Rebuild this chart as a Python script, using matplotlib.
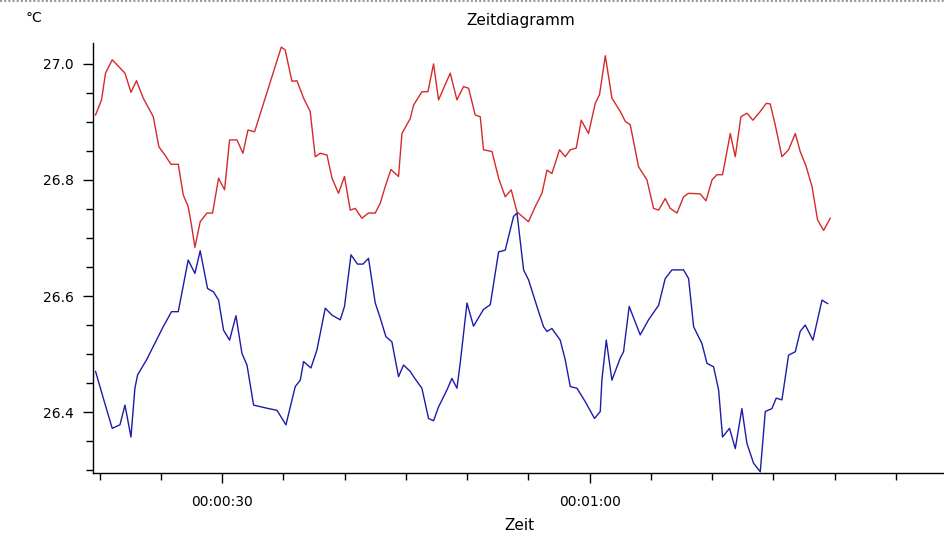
import matplotlib
matplotlib.use("Agg")
import matplotlib.pyplot as plt
from matplotlib.ticker import MultipleLocator, FixedLocator, FixedFormatter
from matplotlib.lines import Line2D

# time in seconds since start, values in °C
t_red = [19.66, 20.15, 20.47, 21.02, 22.06, 22.55, 23.00, 23.55, 24.37, 24.83,
         25.32, 25.81, 26.41, 26.82, 27.22, 27.49, 27.77, 28.20, 28.75, 29.21,
         29.70, 30.19, 30.60, 31.20, 31.69, 32.10, 32.64, 34.82, 35.14, 35.69,
         36.10, 36.64, 37.18, 37.59, 38.00, 38.55, 38.96, 39.49, 39.98, 40.45,
         40.86, 41.40, 41.94, 42.49, 42.90, 43.31, 43.77, 44.39, 44.67, 45.35,
         45.62, 46.30, 46.79, 47.25, 47.66, 48.61, 49.16, 49.70, 50.11, 50.65,
         51.06, 51.33, 52.02, 52.56, 53.10, 53.59, 54.06, 55.00, 55.55, 56.10,
         56.51, 56.91, 57.53, 58.00, 58.41, 58.90, 59.31, 59.90, 60.45, 60.80,
         61.27, 61.81, 62.49, 62.90, 63.31, 63.98, 64.67, 65.21, 65.62, 66.16,
         66.57, 67.12, 67.66, 68.07, 69.02, 69.49, 69.98, 70.38, 70.84, 71.20,
         71.47, 71.88, 72.34, 72.83, 73.32, 73.92, 74.41, 74.73, 75.14, 75.69,
         76.23, 76.78, 77.18, 77.67, 78.14, 78.60, 79.09, 79.63]
red = [26.912, 26.938, 26.984, 27.007, 26.984, 26.951, 26.971, 26.941, 26.909, 26.857,
       26.843, 26.827, 26.827, 26.774, 26.754, 26.722, 26.684, 26.728, 26.743, 26.743,
       26.803, 26.783, 26.869, 26.869, 26.846, 26.886, 26.883, 27.029, 27.024, 26.970,
       26.971, 26.941, 26.918, 26.840, 26.846, 26.843, 26.803, 26.777, 26.806, 26.748,
       26.751, 26.734, 26.743, 26.743, 26.760, 26.789, 26.818, 26.806, 26.880, 26.906,
       26.929, 26.952, 26.952, 27.000, 26.938, 26.984, 26.938, 26.961, 26.958, 26.912,
       26.909, 26.852, 26.849, 26.803, 26.771, 26.783, 26.745, 26.728, 26.754, 26.777,
       26.817, 26.811, 26.852, 26.840, 26.852, 26.855, 26.903, 26.880, 26.932, 26.947,
       27.014, 26.941, 26.918, 26.901, 26.895, 26.823, 26.800, 26.751, 26.748, 26.768,
       26.751, 26.743, 26.771, 26.777, 26.776, 26.764, 26.800, 26.809, 26.809, 26.849,
       26.880, 26.840, 26.909, 26.915, 26.903, 26.918, 26.932, 26.931, 26.895, 26.840,
       26.852, 26.880, 26.849, 26.823, 26.789, 26.731, 26.713, 26.734]

t_blue = [19.66, 20.29, 21.02, 21.65, 22.06, 22.55, 22.87, 23.09, 23.82, 24.51,
          25.18, 25.86, 26.41, 27.22, 27.77, 28.20, 28.80, 29.29, 29.70, 30.11,
          30.60, 31.12, 31.61, 32.02, 32.56, 33.78, 34.47, 35.20, 35.96, 36.37,
          36.64, 37.24, 37.73, 38.41, 38.96, 39.63, 39.98, 40.51, 41.04, 41.49,
          41.94, 42.49, 42.90, 43.36, 43.85, 44.39, 44.80, 45.35, 45.62, 46.30,
          46.84, 47.25, 47.66, 48.34, 48.75, 49.16, 49.43, 49.98, 50.51, 51.33,
          51.88, 52.56, 53.10, 53.78, 54.06, 54.60, 55.00, 55.69, 56.23, 56.51,
          56.91, 57.59, 58.00, 58.41, 58.96, 59.63, 60.39, 60.86, 60.99, 61.35,
          61.81, 62.49, 62.76, 63.22, 64.12, 64.80, 65.62, 66.16, 66.71, 67.66,
          68.07, 68.48, 69.16, 69.57, 70.11, 70.52, 70.84, 71.41, 71.88, 72.42,
          72.83, 73.37, 73.92, 74.33, 74.87, 75.22, 75.69, 76.23, 76.78, 77.18,
          77.59, 78.22, 78.96, 79.41]
blue = [26.470, 26.424, 26.372, 26.378, 26.412, 26.357, 26.441, 26.464, 26.490, 26.519,
        26.547, 26.573, 26.573, 26.662, 26.639, 26.678, 26.613, 26.607, 26.593, 26.541,
        26.524, 26.566, 26.501, 26.481, 26.412, 26.406, 26.403, 26.378, 26.444, 26.455,
        26.487, 26.476, 26.507, 26.579, 26.567, 26.559, 26.582, 26.671, 26.655, 26.655,
        26.665, 26.588, 26.562, 26.530, 26.521, 26.461, 26.481, 26.470, 26.461, 26.441,
        26.389, 26.385, 26.409, 26.438, 26.458, 26.441, 26.485, 26.588, 26.548, 26.577,
        26.585, 26.676, 26.679, 26.737, 26.743, 26.645, 26.628, 26.582, 26.547, 26.539,
        26.544, 26.524, 26.490, 26.444, 26.441, 26.418, 26.389, 26.401, 26.455, 26.524,
        26.455, 26.493, 26.504, 26.582, 26.533, 26.559, 26.584, 26.630, 26.645, 26.645,
        26.630, 26.547, 26.518, 26.484, 26.478, 26.438, 26.357, 26.372, 26.337, 26.406,
        26.346, 26.312, 26.297, 26.401, 26.406, 26.424, 26.421, 26.498, 26.504, 26.539,
        26.550, 26.524, 26.593, 26.587]

x_major = [30, 60]
x_major_labels = ["00:00:30", "00:01:00"]
y_major = [26.4, 26.6, 26.8, 27.0]
y_major_labels = ["26.4", "26.6", "26.8", "27.0"]

plt.rcParams['font.family'] = ['DejaVu Sans']

fig = plt.figure(figsize=(9.45, 5.37), dpi=100)
ax = fig.add_axes([93/945, 1 - 473/537, 1 - 93/945, (473 - 43)/537])

ax.plot(t_red, red, color="#d42a2a", lw=1.0)
ax.plot(t_blue, blue, color="#1c1ca8", lw=1.0)

ax.set_xlim(19.45, 89.0)
ax.set_ylim(26.295, 27.036)

for s in ["top", "right"]:
    ax.spines[s].set_visible(False)
for s in ["left", "bottom"]:
    ax.spines[s].set_color("black")
    ax.spines[s].set_linewidth(1.0)

ax.xaxis.set_major_locator(FixedLocator(x_major))
ax.xaxis.set_major_formatter(FixedFormatter(x_major_labels))
ax.xaxis.set_minor_locator(MultipleLocator(5))
ax.yaxis.set_major_locator(FixedLocator(y_major))
ax.yaxis.set_major_formatter(FixedFormatter(y_major_labels))
ax.yaxis.set_minor_locator(MultipleLocator(0.05))

ax.tick_params(axis="both", which="major", length=7, width=1, direction="out",
               labelsize=10, colors="black", pad=9)
ax.tick_params(axis="both", which="minor", length=5, width=1, direction="out")
ax.tick_params(axis="y", which="major", pad=7)

ax.set_xlabel("Zeit", fontsize=11, labelpad=6)
fig.text(521/945, 1 - 20/537, "Zeitdiagramm", ha="center", va="center", fontsize=11)
fig.text(26/945, 1 - 18/537, "°C", ha="left", va="center", fontsize=10)

fig.add_artist(Line2D([0, 1], [0.998, 0.998], transform=fig.transFigure,
                      color="#9a9a9a", lw=1.5, ls=(0, (1, 1))))

fig.savefig("out.png", dpi=100)
